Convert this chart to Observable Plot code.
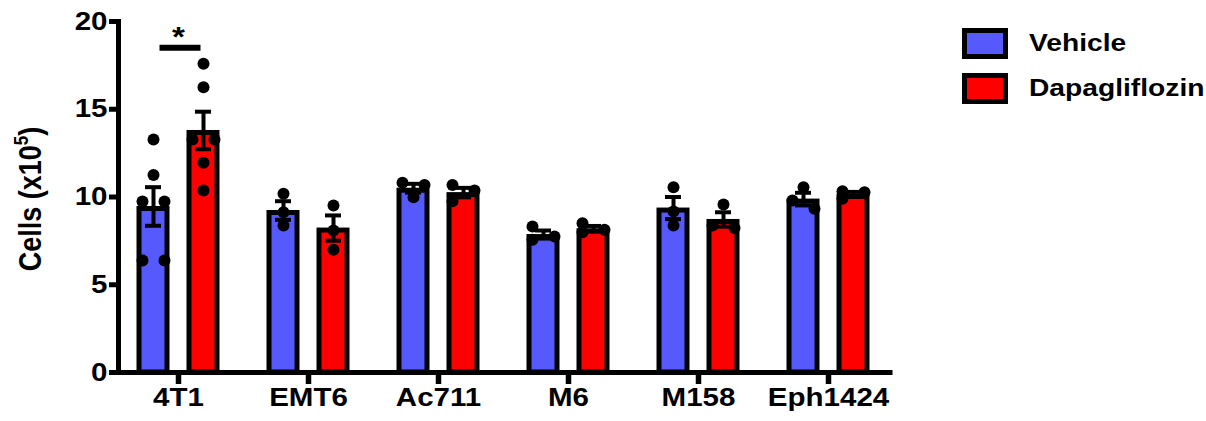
<!DOCTYPE html>
<html>
<head>
<meta charset="utf-8">
<script src="https://cdn.jsdelivr.net/npm/d3@7"></script>
<script src="https://cdn.jsdelivr.net/npm/@observablehq/plot@0.6"></script>
<style>
  html, body { margin: 0; padding: 0; background: #fff; }
  #wrap { position: relative; width: 1206px; height: 421px; font-family: "Liberation Sans", Arial, sans-serif; font-weight: bold; color: #000; }
  #ylabel { position: absolute; left: 31px; top: 199px; transform: translate(-50%, -50%) rotate(-90deg) scaleY(1.15); white-space: nowrap; font-size: 27px; }
  #ylabel sup { font-size: 17px; position: relative; top: -2px; }
  #legend { position: absolute; left: 962px; top: 28px; }
  .item { display: flex; align-items: center; height: 31px; margin-bottom: 14px; }
  .sw { box-sizing: border-box; width: 46px; height: 31px; border: 5px solid #000; margin-right: 21px; flex: none; }
  .lab { font-size: 23.5px; display: inline-block; transform: scaleX(1.2); transform-origin: left center; white-space: nowrap; }
</style>
</head>
<body>
<div id="wrap">
  <div id="chart"></div>
  <div id="ylabel"></div>
  <div id="legend"></div>
</div>
<script>
// ---- data ----
const cellLines = ["4T1", "EMT6", "Ac711", "M6", "M158", "Eph1424"];
const treatments = ["Vehicle", "Dapagliflozin"];
const treatmentColors = ["#5659fb", "#ff0000"];
const vehicleMean = [9.46, 9.23, 10.5, 7.86, 9.37, 9.88];
const vehicleSem = [1.1, 0.53, 0.25, 0.23, 0.63, 0.36];
const dapaMean = [13.79, 8.23, 10.25, 8.19, 8.72, 10.15];
const dapaSem = [1.07, 0.72, 0.27, 0.16, 0.41, 0.14];
const vehiclePoints = [
  [13.28, 11.26, 9.74, 9.74, 6.38, 6.38],
  [10.18, 9.13, 8.38],
  [10.81, 10.69, 9.99],
  [8.32, 7.75, 7.56],
  [10.56, 9.17, 8.38],
  [10.56, 9.8, 9.33]
];
const dapaPoints = [
  [17.59, 16.26, 13.28, 13.28, 11.95, 10.37],
  [9.51, 8.09, 7.0],
  [10.69, 10.37, 9.76],
  [8.51, 8.13, 7.99],
  [9.57, 8.38, 8.24],
  [10.33, 10.27, 9.9]
];
const yTicks = [0, 5, 10, 15, 20];
const sigLine = ["4T1"];
const sigHeight = [18.5];
const sigLabel = ["*"];
const yLabelText = "Cells (x10";
const yLabelSup = "5";
const yLabelEnd = ")";

// ---- layout / style (pixels) ----
const W = 1206, H = 421, mL = 118, mR = 316, mT = 21, mB = 49;
const groupStepPx = 130, firstGroupPx = 60, barOffsetPx = 25, barWidthPx = 28;
const capHalfPx = 8, sigHalfPx = 20.5, dotR = 6, dotShiftPx = 11, xTickLen = 12, textStretch = 1.18;
const u = 1 / groupStepPx; // x-units per pixel (one x-unit per group)
const xDomain = [-firstGroupPx * u, (W - mR - mL - firstGroupPx) * u];
const pxPerUnitY = (H - mT - mB) / (yTicks[yTicks.length - 1] - yTicks[0]);

const means = [vehicleMean, dapaMean];
const sems = [vehicleSem, dapaSem];
const pts = [vehiclePoints, dapaPoints];
const sideOf = j => (j === 0 ? -1 : 1);
const groupIdx = d3.range(cellLines.length);

const bars = cellLines.flatMap((line, i) => treatments.map((t, j) => ({
  line, treatment: t, mean: means[j][i], sem: sems[j][i],
  cx: i + sideOf(j) * barOffsetPx * u
})));

// spread overlapping points left/right (scatter like the original)
const points = [];
cellLines.forEach((line, i) => treatments.forEach((t, j) => {
  const cx = i + sideOf(j) * barOffsetPx * u;
  const vals = pts[j][i].slice().sort((a, b) => b - a);
  let cluster = [];
  const flush = () => {
    cluster.forEach((v, idx) => {
      const s = cluster.length === 1 ? 0 : (idx % 2 === 0 ? -1 : 1);
      points.push({line, treatment: t, value: v, x: cx + s * dotShiftPx * u});
    });
    cluster = [];
  };
  vals.forEach((v, k) => {
    if (k > 0 && (vals[k - 1] - v) * pxPerUnitY >= 2 * dotR) flush();
    cluster.push(v);
  });
  flush();
}));

const sig = sigLine.map((line, i) => ({gi: cellLines.indexOf(line), height: sigHeight[i], label: sigLabel[i]}));

const chart = Plot.plot({
  width: W, height: H,
  marginLeft: mL, marginRight: mR, marginTop: mT, marginBottom: mB,
  style: {fontFamily: "'Liberation Sans', Arial, sans-serif", fontWeight: "bold", color: "#000", background: "#fff", overflow: "visible"},
  x: {type: "linear", domain: xDomain},
  y: {domain: [yTicks[0], yTicks[yTicks.length - 1]]},
  color: {domain: treatments, range: treatmentColors},
  marks: [
    Plot.rectY(bars, {x1: d => d.cx - barWidthPx / 2 * u, x2: d => d.cx + barWidthPx / 2 * u, y: "mean", fill: "treatment", stroke: "#000", strokeWidth: 5, insetTop: 2.5}),
    Plot.dot(points, {x: "x", y: "value", r: dotR, fill: "#000", stroke: "none"}),
    Plot.ruleX(bars, {x: "cx", y1: d => d.mean - d.sem, y2: d => d.mean + d.sem, strokeWidth: 4}),
    Plot.ruleY(bars, {x1: d => d.cx - capHalfPx * u, x2: d => d.cx + capHalfPx * u, y: d => d.mean + d.sem, strokeWidth: 4}),
    Plot.ruleY(bars, {x1: d => d.cx - capHalfPx * u, x2: d => d.cx + capHalfPx * u, y: d => d.mean - d.sem, strokeWidth: 4}),
    Plot.ruleY(sig, {x1: d => d.gi - sigHalfPx * u + 2 * u, x2: d => d.gi + sigHalfPx * u + 2 * u, y: "height", strokeWidth: 6}),
    Plot.text(sig, {x: "gi", y: "height", text: "label", fontSize: 28, dy: -11}),
    // x-axis tick stubs at each group centre
    Plot.ruleX(groupIdx, {x: d => d, y1: yTicks[0], y2: yTicks[0] - xTickLen / pxPerUnitY, strokeWidth: 5.5}),
    Plot.ruleY([yTicks[0]], {strokeWidth: 5, strokeLinecap: "square"}),
    Plot.frame({anchor: "left", strokeWidth: 5, strokeLinecap: "square"}),
    Plot.axisY({ticks: yTicks, tickSize: 9, tickPadding: 2, fontSize: 25, strokeWidth: 5, label: null}),
    Plot.axisX({ticks: groupIdx, tickFormat: i => cellLines[i], tickSize: 0, tickPadding: xTickLen + 4, fontSize: 25, label: null})
  ]
});
document.getElementById("chart").appendChild(chart);

// horizontal stretch of the bold labels, as in the original
chart.querySelectorAll("text").forEach(t => {
  const L = t.getComputedTextLength();
  if (L > 0) {
    t.setAttribute("lengthAdjust", "spacingAndGlyphs");
    t.setAttribute("textLength", (L * textStretch).toFixed(1));
  }
});

// y label
const yl = document.getElementById("ylabel");
yl.append(yLabelText);
const sup = document.createElement("sup"); sup.textContent = yLabelSup; yl.append(sup);
yl.append(yLabelEnd);

// legend
const lg = document.getElementById("legend");
treatments.forEach((t, j) => {
  const item = document.createElement("div"); item.className = "item";
  const sw = document.createElement("div"); sw.className = "sw"; sw.style.background = treatmentColors[j];
  const lab = document.createElement("span"); lab.className = "lab"; lab.textContent = t;
  item.append(sw, lab); lg.append(item);
});
</script>
</body>
</html>
